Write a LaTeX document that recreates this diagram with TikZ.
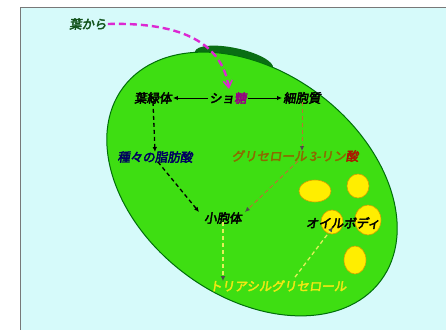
\documentclass[tikz,border=0pt]{standalone}
\usepackage{fontspec}
\newfontfamily\jp{Noto Sans CJK JP}[FakeBold=3.2,FakeSlant=0.15]
\usetikzlibrary{arrows.meta}
\definecolor{bgcyan}{RGB}{214,250,250}
\definecolor{framegray}{RGB}{120,120,120}
\definecolor{cellgreen}{RGB}{62,222,18}
\definecolor{cellborder}{RGB}{0,110,10}
\definecolor{bumpgreen}{RGB}{10,110,20}
\definecolor{oilyellow}{RGB}{255,238,0}
\definecolor{oilborder}{RGB}{215,160,0}
\definecolor{leafgreen}{RGB}{20,85,30}
\definecolor{sugar}{RGB}{150,0,130}
\definecolor{navytext}{RGB}{0,0,95}
\definecolor{glytext}{RGB}{140,105,0}
\definecolor{acidred}{RGB}{170,25,0}
\definecolor{tagyellow}{RGB}{240,232,20}
\definecolor{magentaline}{RGB}{220,40,210}
\definecolor{brownline}{RGB}{185,115,50}
\definecolor{paleyellow}{RGB}{225,240,90}
\begin{document}
\begin{tikzpicture}[x=1pt,y=-1pt,
  font=\jp\fontsize{12.5}{14}\selectfont,
  lbl/.style={inner sep=1pt},
  oil/.style={fill=oilyellow,draw=oilborder,line width=0.6pt},
  solidarrow/.style={line width=1pt,-{Latex[length=5pt,width=4.5pt]}},
  blackdash/.style={line width=1.3pt,dash pattern=on 4pt off 3pt,-{Latex[length=5pt,width=4.5pt]}},
  browndash/.style={brownline,line width=1pt,dash pattern=on 4pt off 3pt,-{Latex[length=5pt,width=4.5pt,color=black!70]}},
  yellowdash/.style={paleyellow,line width=1.3pt,dash pattern=on 4pt off 3pt,-{Latex[length=5pt,width=4.5pt,color=black!70]}},
  magentadash/.style={magentaline,line width=2.4pt,dash pattern=on 7pt off 4pt,-{Straight Barb[length=7pt,width=9pt,line width=1.6pt]}}]
\useasboundingbox (0,0) rectangle (446,329);
\fill[white] (0,0) rectangle (446,329);
% panel
\draw[framegray,line width=1pt,fill=bgcyan] (20,8) rectangle (470,350);
% bulge on top of the cell, then the cell itself
\fill[bumpgreen,rotate around={-12:(234,60)}] (234,60) ellipse [x radius=40pt,y radius=12pt];
\draw[cellborder,line width=1pt,fill=cellgreen,rotate around={-37:(252,184)}]
  (252,184) ellipse [x radius=161pt,y radius=112pt];
% oil bodies
\draw[oil] (315,191) ellipse [x radius=16pt,y radius=11pt];
\draw[oil] (358,186) ellipse [x radius=11pt,y radius=12pt];
\draw[oil] (332,222) ellipse [x radius=11pt,y radius=12pt];
\draw[oil] (368,220) ellipse [x radius=13pt,y radius=15pt];
\draw[oil] (355,260) ellipse [x radius=11pt,y radius=14pt];
% labels
\node[lbl,text=leafgreen] (leaf) at (88,24) {葉から};
\node[lbl] (chl) at (153,98) {葉緑体};
\node[lbl] (suc) at (228,98) {ショ{\color{sugar}糖}};
\node[lbl] (cyt) at (302,98) {細胞質};
\node[lbl,text=navytext] (fa) at (155,157) {種々の脂肪酸};
\node[lbl,text=glytext] (g3p) at (295,156) {グリセロール 3-リン{\color{acidred}酸}};
\node[lbl] (er) at (223,218) {小胞体};
\node[lbl,text=tagyellow] (tag) at (278,286) {トリアシルグリセロール};
\node[lbl] (ob) at (343,223) {オイルボディ};
\coordinate (sucin) at (229,89);
% connectors
\draw[magentadash] (leaf.east) .. controls (185,22) and (222,45) .. (sucin);
\draw[solidarrow] (suc.west) -- (chl.east);
\draw[solidarrow] (suc.east) -- (cyt.west);
\draw[blackdash] ([yshift=3pt]chl.south) -- ([yshift=-2pt]fa.north);
\draw[browndash] ([yshift=3pt]cyt.south) -- ([xshift=7pt,yshift=-2pt]g3p.north);
\draw[blackdash] ([xshift=3pt,yshift=2pt]fa.south) -- ([xshift=-4pt,yshift=-1pt]er.north west);
\draw[browndash] ([xshift=3pt,yshift=2pt]g3p.south) -- ([xshift=2pt,yshift=-1pt]er.north east);
\draw[yellowdash] ([yshift=3pt]er.south) -- ([xshift=-55pt,yshift=-2pt]tag.north);
\draw[yellowdash] ([xshift=17pt,yshift=2pt]tag.north) -- ([xshift=-10pt,yshift=3pt]ob.south);
\end{tikzpicture}
\end{document}
